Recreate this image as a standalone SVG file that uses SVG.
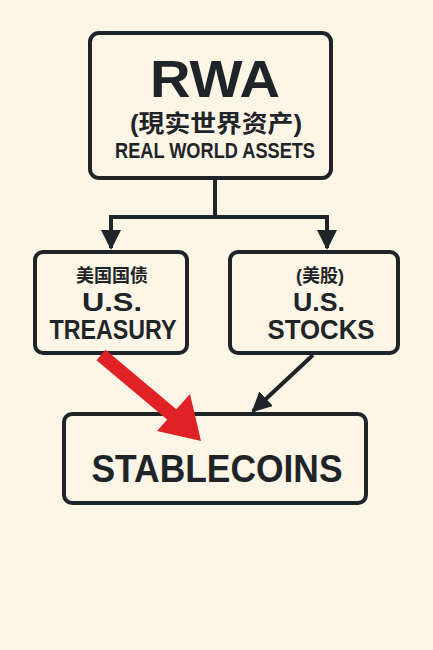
<svg xmlns="http://www.w3.org/2000/svg" width="433" height="650" viewBox="0 0 433 650">
<style>
.box{fill:#fdf6e6;stroke:#1e2428;stroke-width:4}
.t{font-family:"Liberation Sans","Noto Sans CJK SC",sans-serif;font-weight:700;fill:#1e2428;text-anchor:middle}
.ln{fill:none;stroke:#1e2428;stroke-width:4}
</style>
<defs>
<marker id="ah" viewBox="0 0 10 10" refX="9" refY="5" markerWidth="5" markerHeight="5" orient="auto" markerUnits="strokeWidth">
<path d="M0,0 L10,5 L0,10 Z" fill="#1e2428"/>
</marker>
</defs>
<rect width="433" height="650" fill="#fdf6e6"/>
<g id="rwa">
<rect class="box" x="90" y="33" width="241" height="145" rx="9"/>
<text class="t" x="215" y="97" font-size="51" textLength="130" lengthAdjust="spacingAndGlyphs">RWA</text>
<text class="t" x="216" y="132" font-size="24" textLength="172" lengthAdjust="spacingAndGlyphs">(現实世界资产)</text>
<text class="t" x="215" y="158" font-size="22" textLength="200" lengthAdjust="spacingAndGlyphs">REAL WORLD ASSETS</text>
</g>
<g id="treasury">
<rect class="box" x="35" y="252" width="152" height="101" rx="8"/>
<text class="t" x="112" y="282" font-size="18">美国国债</text>
<text class="t" x="112" y="311" font-size="26" textLength="60" lengthAdjust="spacingAndGlyphs">U.S.</text>
<text class="t" x="113" y="339" font-size="27" textLength="127" lengthAdjust="spacingAndGlyphs">TREASURY</text>
</g>
<g id="stocks">
<rect class="box" x="230" y="252" width="168" height="101" rx="8"/>
<text class="t" x="320" y="282" font-size="18">(美股)</text>
<text class="t" x="319" y="311" font-size="26" textLength="52" lengthAdjust="spacingAndGlyphs">U.S.</text>
<text class="t" x="321" y="339" font-size="27" textLength="107" lengthAdjust="spacingAndGlyphs">STOCKS</text>
</g>
<g id="stablecoins">
<rect class="box" x="64" y="414" width="302" height="89" rx="8"/>
<text class="t" x="217" y="482" font-size="38" textLength="251" lengthAdjust="spacingAndGlyphs">STABLECOINS</text>
</g>
<g id="connectors">
<path class="ln" d="M215,178 V217 M111,217 H327"/>
<path class="ln" d="M111,215 V248" marker-end="url(#ah)"/>
<path class="ln" d="M327,215 V248" marker-end="url(#ah)"/>
<path class="ln" d="M313,355 L253,411" stroke-width="3.5" marker-end="url(#ah)"/>
<path d="M101,355 L176,418" stroke="#e02226" stroke-width="14" fill="none"/>
<path d="M201,441 L157,431 L190,394 Z" fill="#e02226"/>
</g>
</svg>
